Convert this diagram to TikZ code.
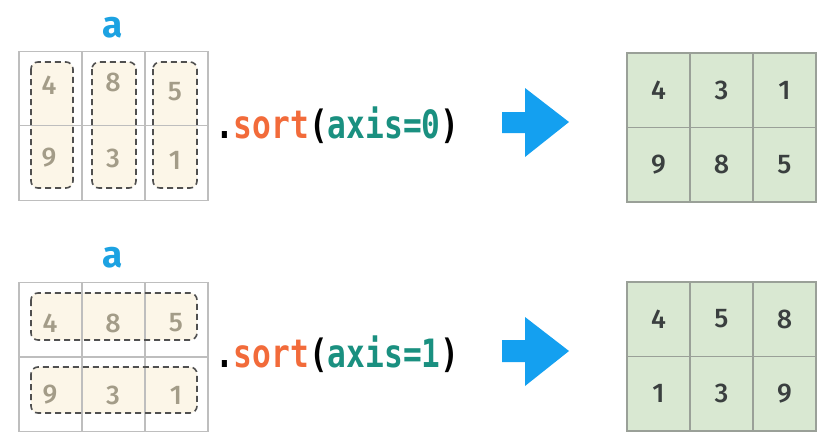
\documentclass[tikz,border=0pt]{standalone}
\usepackage{fontspec}
\setmainfont{Fira Sans}
\newfontfamily\codefont[FakeStretch=0.8]{DejaVu Sans Mono}
\newfontfamily\digitfont{Fira Sans Medium}

\definecolor{gridgray}{HTML}{BEBEBE}
\definecolor{outgray}{HTML}{9AA098}
\definecolor{outgreen}{HTML}{D9E8D2}
\definecolor{boxcream}{HTML}{FCF6E8}
\definecolor{dashgray}{HTML}{505050}
\definecolor{oldnum}{HTML}{A39C88}
\definecolor{newnum}{HTML}{3A3F3F}
\definecolor{arrowblue}{HTML}{14A0F0}
\definecolor{namblue}{HTML}{1CA2E2}
\definecolor{sortorange}{HTML}{F26B3A}
\definecolor{argteal}{HTML}{1A9080}

\tikzset{
  cell/.style={draw=gridgray, line width=1.3pt, minimum width=63pt, minimum height=74.5pt, inner sep=0pt},
  outcell/.style={draw=outgray, fill=outgreen, line width=1.5pt, minimum width=63pt, minimum height=74.5pt, inner sep=0pt,
    text=newnum, font=\digitfont\fontsize{27}{27}\selectfont},
  groupfill/.style={fill=boxcream, rounded corners=7pt},
  groupline/.style={draw=dashgray, dashed, dash pattern=on 6pt off 4pt, line width=1.6pt, rounded corners=7pt},
  olddigit/.style={inner sep=0pt, text=oldnum, font=\digitfont\fontsize{27}{27}\selectfont},
  code/.style={anchor=base west, inner sep=0pt, font=\codefont\bfseries\fontsize{39}{39}\selectfont},
  arrname/.style={anchor=base, inner sep=0pt, text=namblue, font=\bfseries\fontsize{37}{37}\selectfont}
}

\begin{document}
\begin{tikzpicture}[x=1pt, y=-1pt]
        \useasboundingbox (0,0) rectangle (832,447);

        % axis=0
        \node[arrname] (name0) at (113,37) {a};
        \path[groupfill] (31,62) rectangle (73,188);
        \path[groupfill] (92,62) rectangle (136,188);
        \path[groupfill] (153,62) rectangle (197,188);
        \node[cell] (a11) at (50.5,88.5) {};
        \node[cell] (a12) at (113.5,88.5) {};
        \node[cell] (a13) at (176.5,88.5) {};
        \node[cell] (a21) at (50.5,163) {};
        \node[cell] (a22) at (113.5,163) {};
        \node[cell] (a23) at (176.5,163) {};
        \draw[groupline] (31,62) rectangle (73,188);
        \draw[groupline] (92,62) rectangle (136,188);
        \draw[groupline] (153,62) rectangle (197,188);
        \node[olddigit] at (49,85) {4};
        \node[olddigit] at (113,82) {8};
        \node[olddigit] at (175,92) {5};
        \node[olddigit] at (49,158) {9};
        \node[olddigit] at (113,158) {3};
        \node[olddigit] at (175,160) {1};

        \node[code] (call0) at (215,138) {.\textcolor{sortorange}{sort}(\textcolor{argteal}{axis=0})};
        \fill[arrowblue] (502,112) -- (525,112) -- (525,88) -- (569,122) -- (525,157) -- (525,133) -- (502,133) -- cycle;

        \node[outcell] (s11) at (658.5,90) {4};
        \node[outcell] (s12) at (721.5,90) {3};
        \node[outcell] (s13) at (784.5,90) {1};
        \node[outcell] (s21) at (658.5,164.5) {9};
        \node[outcell] (s22) at (721.5,164.5) {8};
        \node[outcell] (s23) at (784.5,164.5) {5};

        % axis=1
        \node[arrname] (name1) at (113,267) {a};
        \path[groupfill] (31,293) rectangle (197,340);
        \path[groupfill] (31,367) rectangle (197,413);
        \node[cell] (b11) at (50.5,319.5) {};
        \node[cell] (b12) at (113.5,319.5) {};
        \node[cell] (b13) at (176.5,319.5) {};
        \node[cell] (b21) at (50.5,394.5) {};
        \node[cell] (b22) at (113.5,394.5) {};
        \node[cell] (b23) at (176.5,394.5) {};
        \draw[groupline] (31,293) rectangle (197,340);
        \draw[groupline] (31,367) rectangle (197,413);
        \node[olddigit] at (50,323) {4};
        \node[olddigit] at (113,323) {8};
        \node[olddigit] at (176,323) {5};
        \node[olddigit] at (50,395) {9};
        \node[olddigit] at (113,395) {3};
        \node[olddigit] at (176,395) {1};

        \node[code] (call1) at (215,367) {.\textcolor{sortorange}{sort}(\textcolor{argteal}{axis=1})};
        \fill[arrowblue] (502,340) -- (525,340) -- (525,317) -- (569,351) -- (525,386) -- (525,362) -- (502,362) -- cycle;

        \node[outcell] (t11) at (658.5,319) {4};
        \node[outcell] (t12) at (721.5,319) {5};
        \node[outcell] (t13) at (784.5,319) {8};
        \node[outcell] (t21) at (658.5,393.5) {1};
        \node[outcell] (t22) at (721.5,393.5) {3};
        \node[outcell] (t23) at (784.5,393.5) {9};
    \end{tikzpicture}
\end{document}
